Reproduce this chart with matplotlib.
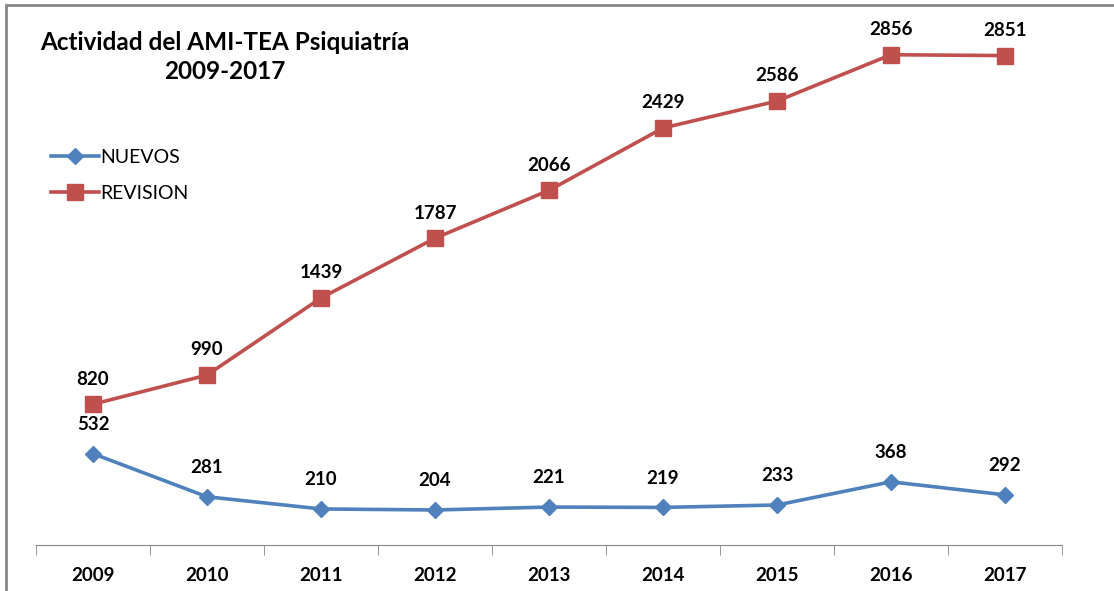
import matplotlib.pyplot as plt
from matplotlib.patches import Rectangle

years = ['2009', '2010', '2011', '2012', '2013', '2014', '2015', '2016', '2017']
nuevos = [532, 281, 210, 204, 221, 219, 233, 368, 292]
revision = [820, 990, 1439, 1787, 2066, 2429, 2586, 2856, 2851]

plt.rcParams['font.family'] = ['Lato', 'DejaVu Sans']

W, H = 1114, 591
fig = plt.figure(figsize=(W / 100, H / 100), dpi=100)
ax = fig.add_axes([36 / W, (H - 545) / H, (1062 - 36) / W, (545 - 30) / H])

x = list(range(len(years)))
blue = '#4F81BD'
red = '#C0504D'
ax.plot(x, nuevos, color=blue, lw=2.6, marker='D', ms=8.5, label='NUEVOS')
ax.plot(x, revision, color=red, lw=2.6, marker='s', ms=11, label='REVISION')

for xi, v in zip(x, nuevos):
    ax.annotate(str(v), (xi, v), xytext=(0, 15), textcoords='offset points',
                ha='center', va='bottom', fontsize=13.5, fontweight='bold')
for xi, v in zip(x, revision):
    ax.annotate(str(v), (xi, v), xytext=(0, 12), textcoords='offset points',
                ha='center', va='bottom', fontsize=13.5, fontweight='bold')

ax.set_xlim(-0.5, len(years) - 0.5)
ax.set_ylim(0, 3000)
ax.set_yticks([])
ax.set_xticks(x)
ax.set_xticklabels(years, fontsize=13.5, fontweight='bold')
ax.set_xticks([i - 0.5 for i in range(len(years) + 1)], minor=True)
ax.tick_params(axis='x', which='major', length=0, pad=16)
ax.tick_params(axis='x', which='minor', length=7, color='#868686', direction='out')
for s in ['top', 'right', 'left']:
    ax.spines[s].set_visible(False)
ax.spines['bottom'].set_color('#868686')

fig.text(225 / W, 1 - 57 / H, 'Actividad del AMI-TEA Psiquiatría\n2009-2017',
         ha='center', va='center', fontsize=17.5, fontweight='bold', linespacing=1.3)

ax.legend(loc='upper left', bbox_to_anchor=(7 / 1026, (545 - 141) / 515),
          frameon=False, fontsize=14, handlelength=2.5, handletextpad=0.05,
          labelspacing=1.0, borderaxespad=0)

fig.patches.append(Rectangle((6 / W, -0.1), 1.2, 1.1 - 5 / H, transform=fig.transFigure,
                             fill=False, edgecolor='#868686', lw=2))

fig.savefig('out.png', dpi=100)
